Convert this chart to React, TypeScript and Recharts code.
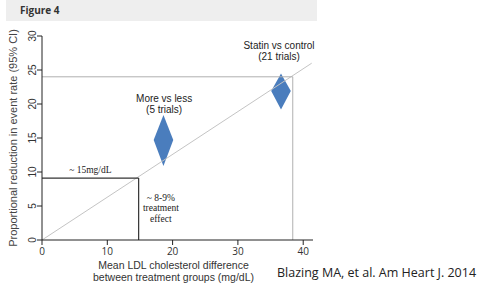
import React from "react"
import {
  ComposedChart,
  Area,
  XAxis,
  YAxis,
  ReferenceLine,
  ReferenceDot,
  Label,
} from "recharts"

// axis ticks
const X_TICKS = [0, 10, 20, 30, 40]
const Y_TICKS = [0, 5, 10, 15, 20, 25, 30]

// diamonds: mean LDL difference vs proportional reduction (95% CI)
const diamondNames = ["More vs less", "Statin vs control"]
const diamondX = [18.6, 36.6]
const diamondY = [14.7, 21.9]
const diamondLow = [10.9, 19.2]
const diamondHigh = [18.4, 24.5]
const diamondHalfWidth = [1.5, 1.5]

// guide lines
const fitLine = [
  { x: 0, y: 0 },
  { x: 41.3, y: 26 },
]
const statinGuide = { x: 38.4, y: 24 }
const ldlGuide = { x: 14.8, y: 9.1 }

// annotations
const annotations = [
  { x: 36.3, y: 28.7, lines: ["Statin vs control", "(21 trials)"], serif: false },
  { x: 18.7, y: 20.9, lines: ["More vs less", "(5 trials)"], serif: false },
  { x: 7.4, y: 10.3, lines: ["~ 15mg/dL"], serif: true },
  { x: 18.2, y: 6.2, lines: ["~ 8-9%", "treatment", "effect"], serif: true },
]

const xAxisTitle = ["Mean LDL cholesterol difference", "between treatment groups (mg/dL)"]

const SANS = "'Liberation Sans', Arial, sans-serif"
const SERIF = "'Liberation Serif', 'Times New Roman', serif"
const KO_SANS = "'Open Sans', 'Noto Sans', sans-serif"

const diamondData = diamondNames.map((name, i) => ({
  name,
  points: [
    { x: diamondX[i] - diamondHalfWidth[i], r: [diamondY[i], diamondY[i]] },
    { x: diamondX[i], r: [diamondLow[i], diamondHigh[i]] },
    { x: diamondX[i] + diamondHalfWidth[i], r: [diamondY[i], diamondY[i]] },
  ],
}))

// eslint-disable-next-line @typescript-eslint/no-explicit-any
function YTick({ x, y, payload }: any) {
  const tx = x - 3
  return (
    <text
      x={tx}
      y={y}
      transform={`rotate(-90 ${tx} ${y})`}
      textAnchor="middle"
      dominantBaseline="central"
      fontSize={10}
      fontFamily={SANS}
      fill="#333"
    >
      {payload.value}
    </text>
  )
}

function annotationContent(lines: string[], serif: boolean) {
  // eslint-disable-next-line @typescript-eslint/no-explicit-any
  return ({ viewBox }: any) => {
    const cx = viewBox.x + (viewBox.width || 0) / 2
    const cy = viewBox.y + (viewBox.height || 0) / 2
    return (
      <text
        x={cx}
        y={cy}
        textAnchor="middle"
        dominantBaseline="central"
        fontSize={serif ? 9.5 : 10}
        fontFamily={serif ? SERIF : SANS}
        fill="#222"
      >
        {lines.map((l, i) => (
          <tspan key={i} x={cx} dy={i === 0 ? 0 : serif ? 10.5 : 11}>
            {l}
          </tspan>
        ))}
      </text>
    )
  }
}

export default function App() {
  return (
    <div
      style={{
        position: "absolute",
        left: 0,
        top: 0,
        width: 483,
        height: 293,
        background: "#fff",
        overflow: "hidden",
      }}
    >
      <div style={{ position: "absolute", left: 6, top: 0, width: 311, height: 21, background: "#eeeeee" }} />
      <div
        style={{
          position: "absolute",
          left: 20,
          top: 4,
          fontSize: 10,
          fontWeight: "bold",
          fontFamily: KO_SANS,
          color: "#333",
          lineHeight: "12px",
        }}
      >
        Figure 4
      </div>
      <div style={{ position: "absolute", left: 0, top: 0 }}>
        <ComposedChart width={483} height={293} margin={{ top: 36, right: 170, bottom: 33, left: 12 }}>
          <XAxis
            type="number"
            dataKey="x"
            domain={[0, 41.5]}
            ticks={X_TICKS}
            allowDataOverflow
            height={20}
            tickSize={5}
            tickMargin={3}
            stroke="#222"
            tick={{ fill: "#333", fontSize: 10, fontFamily: KO_SANS }}
          >
            <Label
              content={({ viewBox }: any) => {
                const cx = viewBox.x + viewBox.width / 2 - 4
                return (
                  <g>
                    {xAxisTitle.map((t, i) => (
                      <text
                        key={i}
                        x={cx}
                        y={viewBox.y + 28.5 + i * 12.2}
                        textAnchor="middle"
                        fontSize={10.5}
                        fontFamily={SANS}
                        fill="#333"
                      >
                        {t}
                      </text>
                    ))}
                  </g>
                )
              }}
            />
          </XAxis>
          <YAxis
            type="number"
            domain={[0, 30]}
            ticks={Y_TICKS}
            allowDataOverflow
            width={30}
            tickSize={5}
            stroke="#222"
            tick={<YTick />}
          >
            <Label
              content={({ viewBox }: any) => {
                const lx = viewBox.x + 1
                const ly = viewBox.y + viewBox.height / 2
                return (
                  <text
                    x={lx}
                    y={ly}
                    transform={`rotate(-90 ${lx} ${ly})`}
                    textAnchor="middle"
                    dominantBaseline="central"
                    fontSize={11}
                    fontFamily={SANS}
                    fill="#444"
                  >
                    Proportional reduction in event rate (95% CI)
                  </text>
                )
              }}
            />
          </YAxis>

          <ReferenceLine segment={fitLine} stroke="#c4c4c4" strokeWidth={1} />
          <ReferenceLine
            segment={[{ x: 0, y: statinGuide.y }, statinGuide]}
            stroke="#b0b0b0"
            strokeWidth={1}
          />
          <ReferenceLine
            segment={[statinGuide, { x: statinGuide.x, y: 0 }]}
            stroke="#b0b0b0"
            strokeWidth={1}
          />
          <ReferenceLine
            segment={[{ x: 0, y: ldlGuide.y }, ldlGuide]}
            stroke="#333"
            strokeWidth={1.2}
          />
          <ReferenceLine
            segment={[ldlGuide, { x: ldlGuide.x, y: 0 }]}
            stroke="#333"
            strokeWidth={1.2}
          />

          {diamondData.map((d) => (
            <Area
              key={d.name}
              data={d.points}
              dataKey="r"
              type="linear"
              stroke="none"
              fill="#4a7dbd"
              fillOpacity={1}
              isAnimationActive={false}
              dot={false}
              activeDot={false}
            />
          ))}

          {annotations.map((a, i) => (
            <ReferenceDot key={i} x={a.x} y={a.y} r={0} stroke="none" fill="none">
              <Label content={annotationContent(a.lines, a.serif)} />
            </ReferenceDot>
          ))}
        </ComposedChart>
      </div>
      <div
        style={{
          position: "absolute",
          left: 277,
          top: 265,
          fontSize: 12.5,
          fontFamily: KO_SANS,
          color: "#222",
          whiteSpace: "nowrap",
          lineHeight: "16px",
        }}
      >
        Blazing MA, et al. Am Heart J. 2014
      </div>
    </div>
  )
}
